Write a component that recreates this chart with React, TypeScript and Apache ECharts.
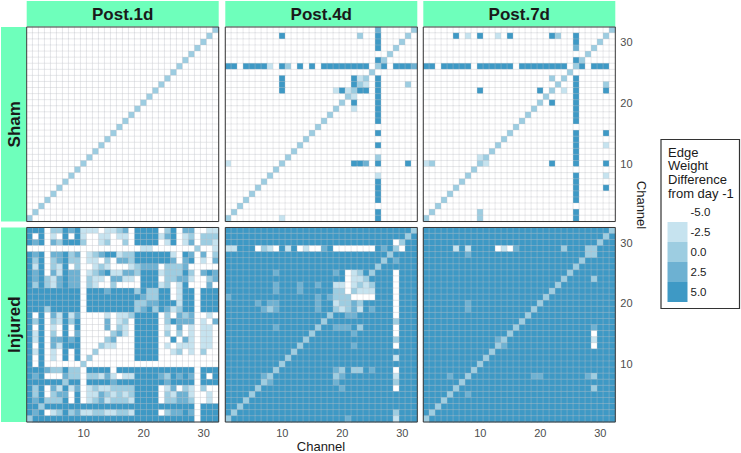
import React, { useEffect, useRef } from "react";
import * as echarts from "echarts";

// Each panel: rows from channel 32 (top) to channel 1 (bottom), one character per channel.
// Characters index colourLevels: 0 = -5.0 ... 4 = 5.0, "." = -5.0 (white)
const colourLevels = [-5, -2.5, 0, 2.5, 5];
const levelLabels = ["-5.0", "-2.5", "0.0", "2.5", "5.0"];
const levelColours = ["#ffffff", "#c6e3ef", "#9dcde1", "#6db1d2", "#3e99c5"];
const channelLabels = Array.from({ length: 32 }, (_, i) => String(i + 1));
const dayLabels = ["Post.1d", "Post.4d", "Post.7d"];
const groupLabels = ["Sham", "Injured"];

const shamDay1 = [
  ".......... .......... ...........2",
  ".......... .......... ..........2.",
  ".......... .......... .........2..",
  ".......... .......... ........2...",
  ".......... .......... .......2....",
  ".......... .......... ......2.....",
  ".......... .......... .....2......",
  ".......... .......... ....2.......",
  ".......... .......... ...2........",
  ".......... .......... ..2.........",
  ".......... .......... .2..........",
  ".......... .......... 2...........",
  ".......... .........2 ............",
  ".......... ........2. ............",
  ".......... .......2.. ............",
  ".......... ......2... ............",
  ".......... .....2.... ............",
  ".......... ....2..... ............",
  ".......... ...2...... ............",
  ".......... ..2....... ............",
  ".......... .2........ ............",
  ".......... 2......... ............",
  ".........2 .......... ............",
  "........2. .......... ............",
  ".......2.. .......... ............",
  "......2... .......... ............",
  ".....2.... .......... ............",
  "....2..... .......... ............",
  "...2...... .......... ............",
  "..2....... .......... ............",
  ".2........ .......... ............",
  "2......... .......... ............",
];

const shamDay4 = [
  ".......... .......... .....3.....2",
  ".........4 .......... ..2..4....2.",
  ".......... .......... .....4...2..",
  ".......... .......... .....4..2...",
  ".......... .......... .......2....",
  ".......... .......... .....42.....",
  "44.44441.4 2.4.4.4444 4444.24.4443",
  ".......... .......... ....2.......",
  ".........4 .......... .412.4......",
  ".........4 .......... .421.4....2.",
  ".........4 ........14 1244.4......",
  ".......... .......... 21...4......",
  ".......... .........2 .4...4......",
  ".......... ........2. .1...4......",
  ".......... .......2.. .....4......",
  ".......... ......2... .....4......",
  ".......... .....2.... ............",
  ".......... ....2..... .....4......",
  ".......... ...2...... ............",
  ".......... ..2....... .....4......",
  ".......... .2........ ............",
  ".......... 2......... .....2......",
  "1........2 .......... .443.4....4.",
  "........2. .......... ............",
  ".......2.. .......... .....1......",
  "......2... .......... .....4......",
  ".....2.... .......... .....4......",
  "....2..... .......... .....4......",
  "...2...... .......... .....4......",
  "..2....... .......... ............",
  ".2........ .......... .....4......",
  "2........1 .......... .....4......",
];

const shamDay7 = [
  ".......... .......... ...........2",
  ".....4.1.4 ..1.4..... .42..4....2.",
  ".......... .......... .....4...2..",
  ".......... .......... .....3..2...",
  ".......... .......... .......2....",
  ".......... .......... .....42.....",
  "44.44444.4 44444.4444 4444.24.444.",
  ".......... .......... ....2.......",
  ".......... .......... .2.2.4......",
  ".......... .......... ..2..4....2.",
  ".........4 .........4 .2.1.4....4.",
  ".......... .......... 2....4......",
  ".......... .........2 .4...4......",
  ".......... ........2. .....4......",
  ".......... .......2.. .....4......",
  ".......... ......2... .....4......",
  ".......... .....2.... ............",
  ".......... ....2..... .....4....4.",
  ".......... ...2...... .....4......",
  ".......... ..2....... .....4....1.",
  ".......... .2........ .....4......",
  ".........1 2......... .....4......",
  "12.......2 1......... .4...4....4.",
  "........2. .......... ............",
  ".......2.. .......... .....4....1.",
  "......2... .......... .....4......",
  ".....2.... .......... .....4....4.",
  "....2..... .......... .....4......",
  "...2...... .......... .....4......",
  "..2....... .......... ............",
  ".2.......2 .......... .....4......",
  "2........2 .......... .....4......",
];

const injuredDay1 = [
  "4440224341 1101123044 440240330011",
  "4040104041 0011011044 441340120222",
  "4340324442 0012002044 440140130221",
  "0000000000 0000000001 100000002001",
  "4340334230 1234412244 444410430302",
  "4240234220 1102033244 444430340103",
  "4140214020 0121000123 330222300000",
  "4340314330 1234113324 441222420343",
  "4342134330 2110331104 440223310023",
  "4242134330 2100200004 441201400030",
  "4444444440 4443444424 224401440444",
  "4444444440 4444444443 224401440444",
  "4444444440 4444444422 334441440444",
  "4442444440 4444444423 424312440444",
  "4040314130 0001011244 440203230010",
  "4240214240 0003012044 440243330103",
  "4040104040 0003021044 440103010110",
  "4140204030 0000231044 440202010110",
  "4140334340 0002300044 440040310110",
  "4040314440 0021100044 440101110110",
  "4140104040 0200000044 440012010200",
  "4040104040 2000000044 440000000000",
  "4040000002 0000000000 000000000000",
  "4443224220 4444044444 444444440444",
  "4340003220 2213101144 443243430404",
  "4444442440 4444344444 444344440444",
  "4240314130 1211222244 440130210200",
  "4240233040 1132121244 440213310010",
  "4342224040 1231222144 440223320010",
  "4424444444 4444444444 444444440444",
  "4340124231 1221122144 440233430444",
  "2444444444 4444444444 444444440444",
];

const injuredDay4 = [
  "4444444444 4444444444 444444444442",
  "4444444444 4444444444 444444444424",
  "4444444444 4444444444 444444440244",
  "1144402104 1401003400 000004342044",
  "4444444444 4444444444 444444424444",
  "4444444444 4444444444 444444243444",
  "4444444444 4444444444 444442444444",
  "4444444434 4444444434 012424440444",
  "4444444444 4444444444 011244440444",
  "4444444434 4434434411 012124440444",
  "4444444434 4434444422 021114440444",
  "3444444444 4444434322 200004440444",
  "4444434334 4444434412 232444440444",
  "4444443234 4444434421 231434440444",
  "4444444444 4444444244 334444440444",
  "4444444444 4444442444 444444442444",
  "4444444434 4444424433 342444440444",
  "4444444444 4444244444 434444440444",
  "4444444444 4442444444 444444442444",
  "4444444444 4424444444 434444440444",
  "4444444444 4244444444 444444444444",
  "4444444444 2444444444 444444441444",
  "4444444442 4444444444 444444444444",
  "4444444424 4444444432 422434440444",
  "4444443244 4444444423 444444441444",
  "4444442344 4444444434 444444442444",
  "4444424444 4444444443 444444440444",
  "4444244444 4444444444 444444444444",
  "4442444444 4444444444 444444444444",
  "4424444444 4444444444 444444444444",
  "4244444444 4444444444 444444442444",
  "2444444444 4444444444 344444441444",
];

const injuredDay7 = [
  "4444444444 4444444444 444444444442",
  "4444444444 4444444444 444444444424",
  "4444444444 4444444444 444444444244",
  "4444414144 4401034444 444244422444",
  "4444444344 4444444444 444444422444",
  "4444444444 4444444444 444444244444",
  "4444444444 4444444444 444442444444",
  "4444444444 4444444444 444424444444",
  "4444444444 4444444444 444244442444",
  "4444444444 4444444444 442444444444",
  "4444444444 4444444444 424444444444",
  "4444444444 4444444444 244444444444",
  "4444444344 4444444442 444444444444",
  "4444444344 4444444424 444444444444",
  "4444444444 4444444244 444444444444",
  "4444444444 4444442444 444444444444",
  "4444444444 4444424444 444444443444",
  "4444444444 4444244444 444444440444",
  "4444444444 4432444444 444444441444",
  "4444444444 4423444444 444444440444",
  "4444444444 4244444444 444444444444",
  "4444444444 2444444444 444444444444",
  "4444444442 4444444444 444444444444",
  "4444444424 4444444444 444444444444",
  "4444344244 4444444433 444444432444",
  "4444442444 4444444444 444444444444",
  "4444424444 4444444444 444444442444",
  "4444244344 4444444444 444444444444",
  "4442444444 4444444444 444444444444",
  "4424444444 4444444444 444444444444",
  "4244444444 4444444444 444444444444",
  "2444444444 4444444444 444444444444",
];

const panels = [shamDay1, shamDay4, shamDay7, injuredDay1, injuredDay4, injuredDay7];

const panelLefts = [26.7, 225.3, 423.3];
const panelTops = [27, 227.5];
const panelWidth = 192;
const panelHeight = 194.5;
const fontFamily = "'Liberation Sans', Arial, sans-serif";
const stripColour = "#6effbb";

const toCells = (rows: string[]) =>
  rows.flatMap((row, i) =>
    [...row.replace(/\s/g, "")].map((ch, j) => [
      j,
      31 - i,
      ch === "." ? colourLevels[0] : colourLevels[Number(ch)],
    ]),
  );

const isDecade = (_: number, value: string) => Number(value) % 10 === 0;

function buildOption() {
  const grids: any[] = [];
  const xAxes: any[] = [];
  const yAxes: any[] = [];
  const series: any[] = [];
  const graphics: any[] = [];

  panels.forEach((rows, p) => {
    const col = p % 3;
    const row = Math.floor(p / 3);
    grids.push({
      left: panelLefts[col],
      top: panelTops[row],
      width: panelWidth,
      height: panelHeight,
    });
    xAxes.push({
      type: "category",
      gridIndex: p,
      data: channelLabels,
      position: "bottom",
      show: row === 1,
      axisLine: { show: false },
      axisTick: { interval: isDecade, alignWithLabel: true, length: 3, lineStyle: { color: "#333" } },
      axisLabel: { interval: isDecade, color: "#4d4d4d", fontSize: 11, fontFamily, margin: 5 },
      splitLine: { show: false },
    });
    yAxes.push({
      type: "category",
      gridIndex: p,
      data: channelLabels,
      position: "right",
      show: col === 2,
      axisLine: { show: false },
      axisTick: { interval: isDecade, alignWithLabel: true, length: 3, lineStyle: { color: "#333" } },
      axisLabel: { interval: isDecade, color: "#4d4d4d", fontSize: 11, fontFamily, margin: 5 },
      splitLine: { show: false },
    });
    series.push({
      type: "heatmap",
      xAxisIndex: p,
      yAxisIndex: p,
      data: toCells(rows),
      itemStyle: { borderColor: "rgba(190,195,200,0.55)", borderWidth: 0.6 },
      emphasis: { disabled: true },
    });
    graphics.push({
      type: "rect",
      z: 100,
      shape: { x: panelLefts[col], y: panelTops[row], width: panelWidth, height: panelHeight },
      style: { fill: "transparent", stroke: "#3a3a3a", lineWidth: 1 },
    });
  });

  dayLabels.forEach((label, i) => {
    graphics.push(
      {
        type: "rect",
        z: 50,
        shape: { x: panelLefts[i], y: 1, width: panelWidth, height: 25.5 },
        style: { fill: stripColour },
      },
      {
        type: "text",
        z: 60,
        x: panelLefts[i] + panelWidth / 2,
        y: 14.5,
        style: {
          text: label,
          fill: "#1a1a1a",
          font: `bold 17px ${fontFamily}`,
          textAlign: "center",
          textVerticalAlign: "middle",
        },
      },
    );
  });

  groupLabels.forEach((label, i) => {
    graphics.push(
      {
        type: "rect",
        z: 50,
        shape: { x: 1, y: panelTops[i], width: 25.5, height: panelHeight },
        style: { fill: stripColour },
      },
      {
        type: "text",
        z: 60,
        x: 14,
        y: panelTops[i] + panelHeight / 2,
        rotation: Math.PI / 2,
        style: {
          text: label,
          fill: "#1a1a1a",
          font: `bold 17px ${fontFamily}`,
          textAlign: "center",
          textVerticalAlign: "middle",
        },
      },
    );
  });

  graphics.push(
    {
      type: "text",
      x: 321,
      y: 446,
      style: {
        text: "Channel",
        fill: "#1a1a1a",
        font: `13px ${fontFamily}`,
        textAlign: "center",
        textVerticalAlign: "middle",
      },
    },
    {
      type: "text",
      x: 641,
      y: 205,
      rotation: -Math.PI / 2,
      style: {
        text: "Channel",
        fill: "#1a1a1a",
        font: `13px ${fontFamily}`,
        textAlign: "center",
        textVerticalAlign: "middle",
      },
    },
    {
      type: "rect",
      shape: { x: 661, y: 139.5, width: 78.5, height: 169 },
      style: { fill: "#ffffff", stroke: "#333", lineWidth: 1.2 },
    },
    ...["Edge", "Weight", "Difference", "from day -1"].map((line, i) => ({
      type: "text",
      z: 5,
      x: 668,
      y: 152 + i * 13.7,
      style: {
        text: line,
        fill: "#1a1a1a",
        font: `13px ${fontFamily}`,
        textVerticalAlign: "middle",
      },
    })),
  );

  return {
    animation: false,
    backgroundColor: "#ffffff",
    grid: grids,
    xAxis: xAxes,
    yAxis: yAxes,
    series,
    graphic: graphics,
    visualMap: {
      type: "piecewise",
      seriesIndex: panels.map((_, i) => i),
      left: 667.5,
      top: 202,
      padding: 0,
      orient: "vertical",
      inverse: true,
      align: "left",
      itemWidth: 20,
      itemHeight: 20,
      itemGap: 0,
      textGap: 3,
      itemSymbol: "rect",
      selectedMode: false,
      hoverLink: false,
      textStyle: { color: "#1a1a1a", fontSize: 11.5, fontFamily },
      z: 20,
      pieces: colourLevels.map((value, i) => ({
        value,
        label: levelLabels[i],
        color: levelColours[i],
      })),
    },
  };
}

export default function App() {
  const ref = useRef<HTMLDivElement>(null);
  useEffect(() => {
    const chart = echarts.init(ref.current!, undefined, { renderer: "svg" });
    chart.setOption(buildOption() as any);
    return () => chart.dispose();
  }, []);
  return (
    <div
      ref={ref}
      style={{ position: "absolute", left: 0, top: 0, width: 741, height: 453, background: "#fff" }}
    />
  );
}
